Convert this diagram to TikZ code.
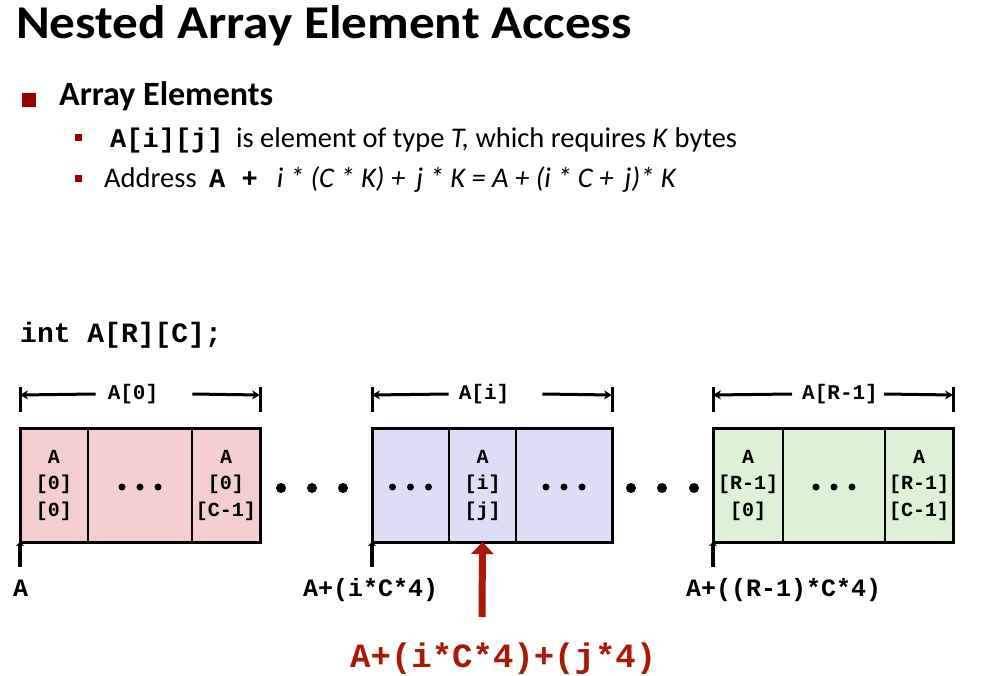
\documentclass[tikz,border=0pt]{standalone}
\usepackage{fontspec}
\setmainfont{Carlito}
\setmonofont{Liberation Mono}
\usetikzlibrary{positioning,arrows.meta}

\definecolor{slidered}{RGB}{153,0,0}
\definecolor{arrowred}{RGB}{172,24,8}
\definecolor{rowzero}{RGB}{244,206,206}
\definecolor{rowmid}{RGB}{221,221,245}
\definecolor{rowlast}{RGB}{220,241,214}

\newcommand{\cellfont}{\fontsize{20}{26.5}\selectfont\ttfamily\bfseries}
\newcommand{\codefont}[1]{\fontsize{#1}{#1}\selectfont\ttfamily\bfseries}

\tikzset{
  cell/.style={draw, line width=1.2pt, minimum height=114pt, inner sep=0pt,
    outer sep=0pt, align=center, font=\cellfont},
  outline/.style={line width=3pt},
  tick/.style={line width=3pt},
  span/.style={line width=3pt, -{Stealth[length=8pt,width=9pt]}},
  ptr/.style={line width=4pt, -{Stealth[length=4pt,width=8pt]}},
  redptr/.style={arrowred, line width=7pt, -{Triangle[length=12pt,width=22pt]}},
  blocklabel/.style={font=\codefont{21}, inner sep=0pt},
  addr/.style={anchor=base west, font=\codefont{25}, inner sep=0pt},
  txt/.style={anchor=base west, inner sep=0pt, font=\fontsize{28.5}{32}\selectfont}
}

\begin{document}
\begin{tikzpicture}[x=1pt, y=-1pt]
  \useasboundingbox[fill=white] (0,0) rectangle (996,676);

  % heading and bullets
  \node[anchor=base west, inner sep=0pt, xscale=1.09, transform shape,
    font=\fontsize{47}{50}\selectfont\bfseries] (title) at (16,39) {Nested Array Element Access};
  \fill[slidered] (22,93) rectangle (36,107);
  \node[anchor=base west, inner sep=0pt, font=\fontsize{34}{38}\selectfont\bfseries] (head) at (59,106) {Array Elements};
  \fill[slidered] (75,134) rectangle (82,141);
  \node[txt] (item1) at (110,148) {{\codefont{27}A[i][j]}\hspace{6pt} is element of type \textit{T,} which requires \textit{K} bytes};
  \fill[slidered] (75,175) rectangle (82,182);
  \node[txt] (item2) at (104,188) {Address\hspace{6pt} {\codefont{27}A +}\hspace{8pt} \textit{\,i * (C * K) + \,j * K = A + (i * C + \,j)* K}};

  \node[anchor=base west, inner sep=0pt, font=\codefont{28}] (decl) at (20,342) {int A[R][C];};

  % row A[0]
  \node[cell, fill=rowzero, minimum width=68pt, anchor=north west] (c11) at (20,428) {A\\{[0]}\\{[0]}};
  \node[cell, fill=rowzero, minimum width=104pt, right=0pt of c11] (c12) {};
  \node[cell, fill=rowzero, minimum width=68pt, right=0pt of c12] (c13) {A\\{[0]}\\{[C-1]}};
  \draw[outline] (c11.north west) rectangle (c13.south east);

  % row A[i]
  \node[cell, fill=rowmid, minimum width=77pt, anchor=north west] (c21) at (372,428) {};
  \node[cell, fill=rowmid, minimum width=67pt, right=0pt of c21] (c22) {A\\{[i]}\\{[j]}};
  \node[cell, fill=rowmid, minimum width=96pt, right=0pt of c22] (c23) {};
  \draw[outline] (c21.north west) rectangle (c23.south east);

  % row A[R-1]
  \node[cell, fill=rowlast, minimum width=70pt, anchor=north west] (c31) at (713,428) {A\\{[R-1]}\\{[0]}};
  \node[cell, fill=rowlast, minimum width=102pt, right=0pt of c31] (c32) {};
  \node[cell, fill=rowlast, minimum width=68pt, right=0pt of c32] (c33) {A\\{[R-1]}\\{[C-1]}};
  \draw[outline] (c31.north west) rectangle (c33.south east);

  % dots inside cells
  \foreach \c in {c12,c21,c23,c32}
    \foreach \d in {-18,0,18}
      \fill ([xshift=\d pt, yshift=-2pt]\c.center) circle (3.5pt);
  % dots between rows
  \foreach \x in {281,312,343,631,662,694}
    \fill (\x,488) circle (5pt);

  % row spans
  \coordinate (l0) at (20,395);  \coordinate (r0) at (260,395);
  \coordinate (li) at (372,395); \coordinate (ri) at (612,395);
  \coordinate (ll) at (713,395); \coordinate (rl) at (953,395);
  \node[blocklabel] (lab0) at (133,394) {A[0]};
  \node[blocklabel] (labi) at (484,394) {A[i]};
  \node[blocklabel] (labl) at (840,394) {A[R-1]};
  \foreach \p in {l0,r0,li,ri,ll,rl}
    \draw[tick] ([yshift=8pt]\p) -- ([yshift=-17pt]\p);
  \draw[span] ([xshift=-12pt]lab0.west) -- (l0);
  \draw[span] ([xshift=34pt]lab0.east) -- (r0);
  \draw[span] ([xshift=-10pt]labi.west) -- (li);
  \draw[span] ([xshift=33pt]labi.east) -- (ri);
  \draw[span] ([xshift=-10pt]labl.west) -- (ll);
  \draw[span] ([xshift=6pt]labl.east) -- (rl);

  % start addresses
  \coordinate (p0) at (20,567);
  \coordinate (pi) at (372,567);
  \coordinate (pl) at (713,567);
  \draw[ptr] (p0) -- (c11.south west);
  \draw[ptr] (pi) -- (c21.south west);
  \draw[ptr] (pl) -- (c31.south west);
  \node[addr] (a0) at (13,596) {A};
  \node[addr] (ai) at (303,596) {A+(i*C*4)};
  \node[addr] (al) at (686,596) {A+((R-1)*C*4)};

  % element address
  \coordinate (pj) at (482,617);
  \draw[redptr] (pj) -- (c22.south);
  \node[anchor=base west, inner sep=0pt, text=arrowred, font=\codefont{34}] (aij) at (350,667) {A+(i*C*4)+(j*4)};
\end{tikzpicture}
\end{document}
